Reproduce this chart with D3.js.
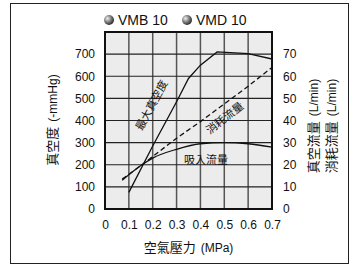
<!DOCTYPE html>
<html>
<head>
<meta charset="utf-8">
<script src="https://cdn.jsdelivr.net/npm/d3@7"></script>
<style>
  body { margin: 0; background: #fff; }
  text { font-family: "Liberation Sans", Arial, sans-serif; fill: #111; }
  .cjk { font-family: "Noto Sans CJK TC", "Noto Sans CJK SC", sans-serif; }
</style>
</head>
<body>
<svg id="chart"></svg>
<script>
var pressTicks = [0, 0.1, 0.2, 0.3, 0.4, 0.5, 0.6, 0.7];
var vacTicks = [0, 100, 200, 300, 400, 500, 600, 700];
var flowTicks = [0, 10, 20, 30, 40, 50, 60, 70];
var models = ['VMB 10', 'VMD 10'];

// 最大真空度 (-mmHg)
var maxVacP = [0.1, 0.2, 0.3, 0.35, 0.4, 0.47, 0.6, 0.7];
var maxVacV = [75, 285, 485, 590, 650, 710, 702, 678];
// 消耗流量 (L/min)
var consP = [0.072, 0.155, 0.3, 0.4, 0.5, 0.6, 0.7];
var consV = [13.5, 20, 32, 39.5, 47.5, 55.5, 64];
// 吸入流量 (L/min)
var suckP = [0.072, 0.155, 0.2, 0.3, 0.4, 0.5, 0.6, 0.7];
var suckV = [13, 20, 23, 27, 29.5, 30, 29.5, 28];

var svg = d3.select('#chart').attr('width', 363).attr('height', 266);

var defs = svg.append('defs');
var grad = defs.append('radialGradient').attr('id', 'ball')
    .attr('cx', '35%').attr('cy', '35%').attr('r', '65%');
grad.append('stop').attr('offset', '0%').attr('stop-color', '#eee');
grad.append('stop').attr('offset', '60%').attr('stop-color', '#777');
grad.append('stop').attr('offset', '100%').attr('stop-color', '#333');

// outer frame
svg.append('rect').attr('x', 10.5).attr('y', 3.5).attr('width', 338).attr('height', 260)
    .attr('fill', 'none').attr('stroke', '#222').attr('stroke-width', 1);

var L = 105, R = 272, T = 32, B = 209;
var x = d3.scaleLinear().domain([0, 0.7]).range([L, R]);
var yL = d3.scaleLinear().domain([0, 800]).range([B, T]);
var yR = d3.scaleLinear().domain([0, 80]).range([B, T]);

svg.append('rect').attr('x', L).attr('y', T).attr('width', R - L).attr('height', B - T)
    .attr('fill', '#ececec');

// grid
svg.append('g').selectAll('line').data(pressTicks.slice(1, -1)).enter().append('line')
    .attr('x1', function (d) { return x(d); }).attr('x2', function (d) { return x(d); })
    .attr('y1', T).attr('y2', B).attr('stroke', '#555').attr('stroke-width', 1.5);
svg.append('g').selectAll('line').data(vacTicks.slice(1)).enter().append('line')
    .attr('y1', function (d) { return yL(d); }).attr('y2', function (d) { return yL(d); })
    .attr('x1', L).attr('x2', R).attr('stroke', '#222').attr('stroke-width', 1.2);

svg.append('rect').attr('x', L).attr('y', T).attr('width', R - L).attr('height', B - T)
    .attr('fill', 'none').attr('stroke', '#111').attr('stroke-width', 2);

// axes (labels only)
var ax = svg.append('g').attr('transform', 'translate(0,' + (B + 5) + ')')
    .call(d3.axisBottom(x).tickValues(pressTicks).tickSize(0).tickPadding(6)
        .tickFormat(function (d) { return d === 0 ? '0' : d3.format('.1f')(d); }));
var al = svg.append('g').attr('transform', 'translate(' + (L - 10) + ',0)')
    .call(d3.axisLeft(yL).tickValues(vacTicks).tickSize(0).tickPadding(0));
var ar = svg.append('g').attr('transform', 'translate(' + (R + 11) + ',0)')
    .call(d3.axisRight(yR).tickValues(flowTicks).tickSize(0).tickPadding(0));
[ax, al, ar].forEach(function (g) {
    g.select('.domain').remove();
    g.selectAll('text').attr('font-size', 12).attr('fill', '#111')
        .attr('font-family', '"Liberation Sans", Arial, sans-serif');
});

// lines
var lineL = d3.line().x(function (d) { return x(d[0]); }).y(function (d) { return yL(d[1]); });
var lineR = d3.line().x(function (d) { return x(d[0]); }).y(function (d) { return yR(d[1]); });

svg.append('path').datum(d3.zip(maxVacP, maxVacV)).attr('d', lineL)
    .attr('fill', 'none').attr('stroke', '#111').attr('stroke-width', 1.3);
svg.append('path').datum(d3.zip(suckP, suckV)).attr('d', lineR.curve(d3.curveMonotoneX))
    .attr('fill', 'none').attr('stroke', '#111').attr('stroke-width', 1.3);
svg.append('path').datum(d3.zip(consP, consV)).attr('d', d3.line()
        .x(function (d) { return x(d[0]); }).y(function (d) { return yR(d[1]); }))
    .attr('fill', 'none').attr('stroke', '#111').attr('stroke-width', 1.3)
    .attr('stroke-dasharray', '5,3');

// curve labels
svg.append('text').attr('class', 'cjk').attr('font-size', 11).attr('text-anchor', 'middle')
    .attr('transform', 'translate(155,107) rotate(-62)').text('最大真空度');
svg.append('text').attr('class', 'cjk').attr('font-size', 11).attr('text-anchor', 'middle')
    .attr('transform', 'translate(227,121) rotate(-38)').text('消耗流量');
svg.append('text').attr('class', 'cjk').attr('font-size', 11).attr('text-anchor', 'middle')
    .attr('x', 206).attr('y', 164).text('吸入流量');

// axis titles
function title(t, cjk, unit) {
    t.append('tspan').attr('class', 'cjk').attr('font-size', 13).text(cjk);
    t.append('tspan').attr('dx', 5).text(unit);
}
svg.append('text').attr('text-anchor', 'middle').attr('font-size', 12)
    .attr('x', x(0.35)).attr('y', 252)
    .call(title, '空氣壓力', '(MPa)');
svg.append('text').attr('text-anchor', 'middle').attr('font-size', 12)
    .attr('transform', 'translate(57,120) rotate(-90)')
    .call(title, '真空度', '(-mmHg)');
[['真空流量', 318], ['消耗流量', 336]].forEach(function (d) {
    svg.append('text').attr('text-anchor', 'middle').attr('font-size', 12)
        .attr('transform', 'translate(' + d[1] + ',126) rotate(-90)')
        .call(title, d[0], '(L/min)');
});

// legend
var lg = svg.append('g').selectAll('g').data(models).enter().append('g')
    .attr('transform', function (d, i) { return 'translate(' + (109 + i * 78) + ',20)'; });
lg.append('circle').attr('r', 5).attr('fill', 'url(#ball)');
lg.append('text').attr('x', 9).attr('y', 5).attr('font-size', 14)
    .text(function (d) { return d; });
</script>
</body>
</html>
